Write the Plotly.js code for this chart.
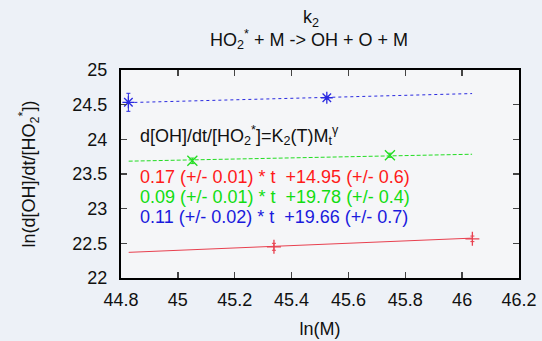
<!DOCTYPE html>
<html>
<head>
<meta charset="utf-8">
<script src="https://cdn.plot.ly/plotly-3.0.1.min.js"></script>
<style>html,body{margin:0;padding:0;background:#edf1f7;}#chart{width:542px;height:341px;}</style>
</head>
<body>
<div id="chart"></div>
<script>
// Data
const redX = [45.338, 46.036];
const redY = [22.45, 22.565];
const redErr = [0.05, 0.04];
const redFitX = [44.827, 46.035];
const redFitY = [22.37, 22.575];

const greenX = [45.051, 45.746];
const greenY = [23.69, 23.77];
const greenErr = [0.04, 0.03];
const greenFitX = [44.827, 46.035];
const greenFitY = [23.685, 23.785];

const blueX = [44.826, 45.524];
const blueY = [24.534, 24.60];
const blueErr = [0.13, 0.02];
const blueFitX = [44.826, 46.035];
const blueFitY = [24.53, 24.66];

const xTicks = [44.8, 45, 45.2, 45.4, 45.6, 45.8, 46, 46.2];
const yTicks = [22, 22.5, 23, 23.5, 24, 24.5, 25];

const fitLabels = [
  {text: "0.17 (+/- 0.01) * t  +14.95 (+/- 0.6)", color: "#ff1a1a", y: 23.455},
  {text: "0.09 (+/- 0.01) * t  +19.78 (+/- 0.4)", color: "#11dd11", y: 23.165},
  {text: "0.11 (+/- 0.02) * t  +19.66 (+/- 0.7)", color: "#1a1add", y: 22.875}
];

const RED = "#e8404f", GREEN = "#22dd22", BLUE = "#2a2ae0";

function fit(x, y, c, dash) {
  return {x: x, y: y, mode: "lines", type: "scatter", line: {color: c, width: 1, dash: dash}, hoverinfo: "skip", showlegend: false};
}
function pts(x, y, e, c, sym) {
  return {x: x, y: y, mode: "markers", type: "scatter", showlegend: false,
    marker: {symbol: sym, size: 10, color: c, line: {color: c, width: 1.3}},
    error_y: {type: "data", array: e, visible: true, color: c, thickness: 1, width: 2}};
}

const traces = [
  fit(redFitX, redFitY, RED, "solid"), pts(redX, redY, redErr, RED, "cross-thin-open"),
  fit(greenFitX, greenFitY, GREEN, "4px,2px"), pts(greenX, greenY, greenErr, GREEN, "x-thin-open"),
  fit(blueFitX, blueFitY, BLUE, "dot"), pts(blueX, blueY, blueErr, BLUE, "asterisk-open")
];

const FAM = "Liberation Sans, Arial, sans-serif";
const font = {family: FAM, size: 18, color: "#111"};

const annotations = [
  {xref: "paper", yref: "paper", x: 0.477, y: 1.25, xanchor: "center", yanchor: "middle", showarrow: false,
   text: "k<sub>2</sub>", font: {family: FAM, size: 18, color: "#111"}},
  {xref: "paper", yref: "paper", x: 0.473, y: 1.145, xanchor: "center", yanchor: "middle", showarrow: false,
   text: "HO<sub>2</sub><sup>*</sup> + M -> OH + O + M", font: {family: FAM, size: 18, color: "#111"}},
  {xref: "x", yref: "y", x: 44.86, y: 24.06, xanchor: "left", yanchor: "middle", showarrow: false,
   text: "d[OH]/dt/[HO<sub>2</sub><sup>*</sup>]=K<sub>2</sub>(T)M<sub>t</sub><sup>γ</sup>", font: {family: FAM, size: 18, color: "#111"}}
];
fitLabels.forEach(f => annotations.push({xref: "x", yref: "y", x: 44.86, y: f.y, xanchor: "left", yanchor: "middle", showarrow: false,
  text: f.text, font: {family: FAM, size: 18, color: f.color}}));

const layout = {
  width: 542, height: 341,
  margin: {l: 121, r: 23, t: 70, b: 63},
  paper_bgcolor: "#edf1f7", plot_bgcolor: "#f5f6f8",
  font: font,
  xaxis: {range: [44.8, 46.2], tickvals: xTicks, ticktext: xTicks.map(String), ticks: "inside", ticklen: 6, tickwidth: 1.5,
    ticklabelstandoff: 4,
    showline: true, linewidth: 2, linecolor: "#000", mirror: "ticks", showgrid: false, zeroline: false,
    title: {text: "ln(M)", font: font, standoff: 14}},
  yaxis: {range: [22, 25], tickvals: yTicks, ticktext: yTicks.map(String), ticks: "inside", ticklen: 6, tickwidth: 1.5,
    ticklabelstandoff: 8,
    showline: true, linewidth: 2, linecolor: "#000", mirror: "ticks", showgrid: false, zeroline: false,
    title: {text: "ln(d[OH]/dt/[HO<sub>2</sub><sup>*</sup>])", font: font, standoff: 32}},
  annotations: annotations
};

Plotly.newPlot("chart", traces, layout, {displayModeBar: false, staticPlot: true});
</script>
</body>
</html>
